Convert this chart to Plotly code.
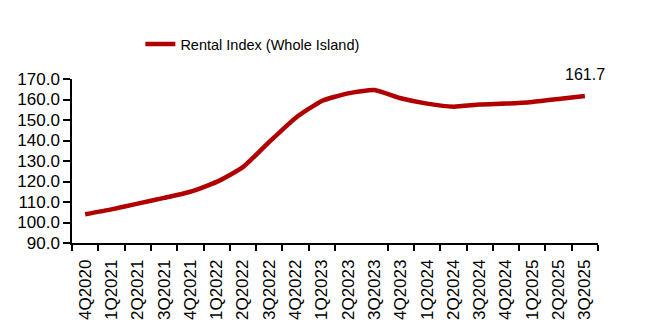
import plotly.graph_objects as go

quarters = ["4Q2020", "1Q2021", "2Q2021", "3Q2021", "4Q2021",
            "1Q2022", "2Q2022", "3Q2022", "4Q2022",
            "1Q2023", "2Q2023", "3Q2023", "4Q2023",
            "1Q2024", "2Q2024", "3Q2024", "4Q2024",
            "1Q2025", "2Q2025", "3Q2025"]
rental_index = [104.0, 106.4, 109.2, 112.0, 115.0,
                119.8, 127.0, 139.3, 151.0,
                159.3, 163.0, 164.6, 160.6,
                158.0, 156.5, 157.6, 158.0,
                158.8, 160.2, 161.7]
series_name = "Rental Index (Whole Island)"
last_label = "161.7"

RED = "#B00000"
FONT = "Liberation Sans, Arial, sans-serif"

x_pos = list(range(len(quarters)))

fig = go.Figure()
fig.add_trace(go.Scatter(
    x=x_pos, y=rental_index, mode="lines", name=series_name,
    line=dict(color=RED, width=4.5, shape="spline", smoothing=0.5),
))

fig.add_annotation(x=x_pos[-1], y=rental_index[-1], text=last_label,
                   showarrow=False, yanchor="bottom", yshift=11,
                   font=dict(family=FONT, size=16, color="black"))

fig.update_layout(
    width=650, height=331,
    margin=dict(l=72, r=52, t=79, b=88),
    paper_bgcolor="white", plot_bgcolor="white",
    font=dict(family=FONT, size=16, color="black"),
    showlegend=True,
    legend=dict(orientation="h", x=0.13, xanchor="left", y=1.213, yanchor="middle",
                font=dict(family=FONT, size=14.5, color="black"),
                bgcolor="rgba(0,0,0,0)"),
    xaxis=dict(range=[-0.5, len(quarters) - 0.5], tickmode="array",
               tickvals=x_pos, ticktext=quarters, tickangle=-90,
               ticks="", ticklabelstandoff=8,
               showline=True, linecolor="black", linewidth=1.5,
               showgrid=False, zeroline=False,
               minor=dict(tickmode="array",
                          tickvals=[k - 0.5 for k in range(len(quarters) + 1) if k != 11],
                          ticks="outside", ticklen=6, tickcolor="black", tickwidth=1.5,
                          showgrid=False),
               tickfont=dict(family=FONT, size=17, color="black")),
    yaxis=dict(range=[90, 170], dtick=10, tick0=90, tickformat=".1f",
               ticks="outside", ticklen=7, tickcolor="black", tickwidth=1.5,
               showline=True, linecolor="black", linewidth=1.5,
               showgrid=False, zeroline=False,
               tickfont=dict(family=FONT, size=17, color="black")),
)

fig.write_html("out.html")
